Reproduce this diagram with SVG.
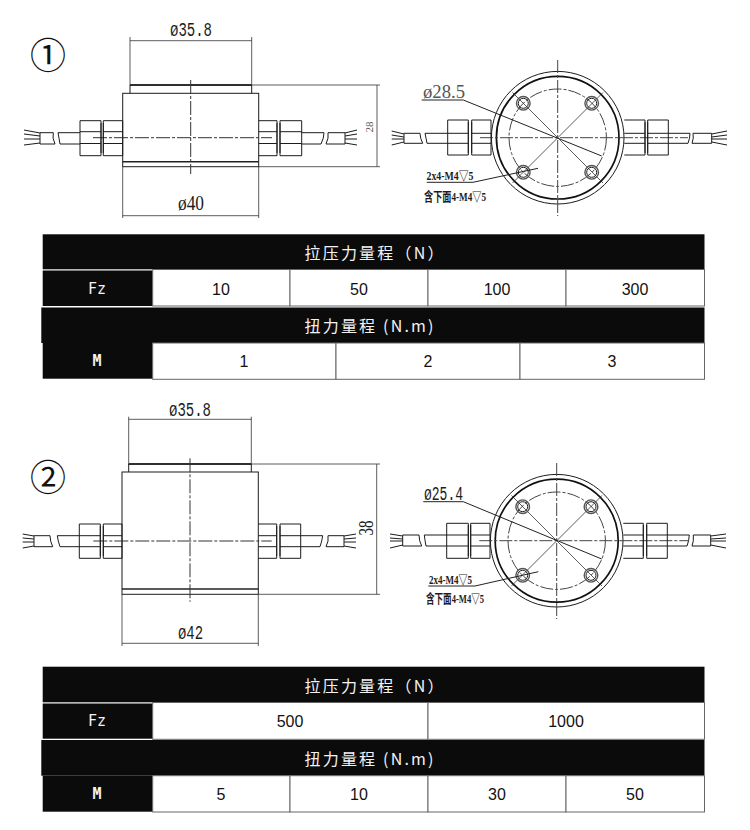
<svg xmlns="http://www.w3.org/2000/svg" width="750" height="830" viewBox="0 0 750 830">
<style>
.l{fill:none;stroke:#1c1c1c;stroke-width:1}
.t{fill:none;stroke:#111;stroke-width:1.7}
.m{fill:none;stroke:#222;stroke-width:1.4}
.h{fill:none;stroke:#333;stroke-width:.8}
.c{fill:none;stroke:#333;stroke-width:1;stroke-dasharray:14 2 3 2}
.d{fill:none;stroke:#444;stroke-width:1;stroke-dasharray:13 2 3 2}
.b{fill:#0b0b0b}
.w{fill:#fff;stroke:#666;stroke-width:1}
.g{fill:none;stroke:#555;stroke-width:1.4}
.dim{font-family:"Liberation Serif",serif;fill:#1c1c1c;text-anchor:middle}
.mono{font-family:"Liberation Mono",monospace;fill:#1c1c1c;text-anchor:middle}
.lab{font-family:"Liberation Serif","Noto Sans CJK SC",serif;font-weight:bold;fill:#1c1c1c;font-size:13px}
.hd{font-family:"Noto Sans CJK SC",sans-serif;fill:#f2f2f2;font-size:16px;letter-spacing:2.2px;dominant-baseline:central}
.k{font-family:"DejaVu Sans Mono",monospace;fill:#f2f2f2;font-size:15px;text-anchor:middle;dominant-baseline:central}
.v{font-family:"Liberation Sans",sans-serif;fill:#111;font-size:16px;text-anchor:middle;dominant-baseline:central}
.n{font-family:"Noto Sans CJK SC",sans-serif;fill:#111;font-size:36px;text-anchor:middle;dominant-baseline:central}
</style>

<g id="drawing-1-side">
<text class="n" x="48" y="53">①</text>
<path class="l" d="M130 93.3V85H251.7V93.3"/><path class="t" d="M130 85H251.7"/>
<rect class="l" x="122.7" y="93.3" width="136" height="73.4"/>
<path class="m" d="M122.7 161.7H258.7"/>
<path class="c" d="M190.7 80V174M93 137.7H272"/>
<path class="l" d="M80 120.7H101V155.7H80ZM80 131.7H101M80 143.5H101M103.3 120.7H122.7V155.7H103.3ZM103.3 131.7H122.7M103.3 143.5H122.7M101 123V153M103.3 123V153"/>
<path class="l" d="M80 132.7H58Q59 138 60 144H80M53.3 132.7Q52 138 55 144H40V132.7H53.3M40 133L24 130M40 136L24 134M40 139H24M40 143L24 145"/>
<path class="l" d="M258.7 120.7H277V155.7H258.7M258.7 131.7H277M258.7 143.5H277M280 120.7H301.7V155.7H280ZM280 131.7H301.7M280 143.5H301.7M277 123V153M280 123V153"/>
<path class="l" d="M301.7 132.7H324Q324 138 321 144H301.7M328 132.7H345V144H326Q329 138 328 132.7M345 133L357 130M345 136L357 134M345 139H357M345 143L357 145"/>
<path class="h" d="M130 37V85M251.7 37V85M130 40.7H251.7M251.7 85H380M258.7 166.7H380M377 85V166.7M122.7 166.7V218M258.7 166.7V218M122.7 215.7H258.7"/>
<text class="mono" x="191" y="36" font-size="20" textLength="42" lengthAdjust="spacingAndGlyphs">ø35.8</text>
<text class="dim" x="191" y="210" font-size="21" textLength="26" lengthAdjust="spacingAndGlyphs">ø40</text>
<text class="dim" font-size="11" style="fill:#555" transform="translate(373 127) rotate(-90)">28</text>
</g>

<g id="drawing-1-top">
<circle class="l" cx="557.7" cy="137.7" r="66.3"/>
<circle class="t" cx="557.7" cy="137.7" r="61.3"/>
<circle class="d" cx="557.7" cy="137.7" r="48.7"/>
<path class="d" d="M557.7 60V216M480 137.7H688"/>
<path class="h" d="M512.5 92.5L603 183M603 92.5L512.5 183"/>
<g class="l"><circle cx="523.3" cy="103.3" r="5"/><circle cx="591.7" cy="103.3" r="5"/><circle cx="523.3" cy="172.3" r="5"/><circle cx="591.7" cy="172.3" r="5"/></g>
<g class="g"><circle cx="523.3" cy="103.3" r="6.8"/><circle cx="591.7" cy="103.3" r="6.8"/><circle cx="523.3" cy="172.3" r="6.8"/><circle cx="591.7" cy="172.3" r="6.8"/></g>
<path class="l" d="M447.7 120H468.3V155H447.7ZM447.7 133.3H468.3M447.7 143.3H468.3M471.7 120H491V155H471.7ZM471.7 133.3H491M471.7 143.3H491M468.3 122V153M471.7 122V153"/>
<path class="l" d="M447.7 133.3H425Q426 138 427 143.3H447.7M422.7 143.3H404V133.3H420Q420 138 422.7 143.3M404 134L391.7 131M404 137L391.7 135M404 139H391.7M404 142L391.7 145"/>
<path class="l" d="M624.3 120H645V155H624.3M624.3 133.3H645M624.3 143.3H645M647.7 120H668.3V155H647.7ZM647.7 133.3H668.3M647.7 143.3H668.3M645 122V153M647.7 122V153"/>
<path class="l" d="M668.3 133.3H690Q690 138 688 143.3H668.3M693 133.3H711.7V143.3H692Q694 138 693 133.3M711.7 134L727 131M711.7 137L727 135M711.7 139H727M711.7 142L727 145"/>
<path class="h" d="M421.7 100H463.3L601.7 156M426.7 182.3H473L538 168.3" style="stroke:#222;stroke-width:1"/>
<text class="dim" x="444" y="97.5" font-size="19" textLength="42" lengthAdjust="spacingAndGlyphs" style="fill:#555">ø28.5</text>
<text class="lab" x="426.5" y="180" textLength="47" lengthAdjust="spacingAndGlyphs">2x4-M4▽5</text>
<text class="lab" x="424" y="201" textLength="62" lengthAdjust="spacingAndGlyphs">含下面4-M4▽5</text>
</g>

<g id="table-1">
<rect class="b" x="42.7" y="234.3" width="661.8" height="35"/>
<rect class="b" x="42.7" y="270.5" width="110" height="35.5"/>
<g class="w"><rect x="152.7" y="269.5" width="137.3" height="36.5"/><rect x="290" y="269.5" width="138" height="36.5"/><rect x="428" y="269.5" width="138" height="36.5"/><rect x="566" y="269.5" width="138.5" height="36.5"/></g>
<rect class="b" x="41.3" y="307.5" width="663.2" height="35.5"/>
<rect class="b" x="42.7" y="343" width="110" height="35.7"/>
<g class="w"><rect x="152.7" y="343" width="183.3" height="36.3"/><rect x="336" y="343" width="184" height="36.3"/><rect x="520" y="343" width="184.5" height="36.3"/></g>
<text class="hd" x="304.5" y="252">拉压力量程（N）</text>
<text class="hd" x="304.5" y="325">扭力量程 (N.m)</text>
<text class="k" x="97" y="289">Fz</text>
<text class="k" x="97" y="361" font-weight="bold">M</text>
<g class="v"><text x="221" y="289">10</text><text x="359" y="289">50</text><text x="497" y="289">100</text><text x="635" y="289">300</text><text x="244" y="361">1</text><text x="428" y="361">2</text><text x="612" y="361">3</text></g>
</g>

<g id="drawing-2-side">
<text class="n" x="48" y="475">②</text>
<path class="l" d="M128.7 472V464H251.3V472"/><path class="t" d="M128.7 464H251.3"/>
<rect class="l" x="122" y="472" width="136.3" height="122.3"/>
<path class="m" d="M122 589H258.3"/>
<path class="c" d="M190 458.3V601.7M93.3 541H271.7"/>
<path class="l" d="M79.3 524H100.3V558.3H79.3ZM79.3 535.7H100.3M79.3 546.7H100.3M103.3 524H122V558.3H103.3ZM103.3 535.7H122M103.3 546.7H122M100.3 526V556M103.3 526V556"/>
<path class="l" d="M79.3 535.7H57.3Q58 541 60 546.7H79.3M52.7 546.7H34V535.7H50Q50 541 52.7 546.7M34 536L22.7 534M34 539L22.7 538M34 542H22.7M34 546L22.7 548"/>
<path class="l" d="M258.3 524H276.7V558.3H258.3M258.3 535.7H276.7M258.3 546.7H276.7M280 524H300.7V558.3H280ZM280 535.7H300.7M280 546.7H300.7M276.7 526V556M280 526V556"/>
<path class="l" d="M300.7 535.7H322.7Q322 541 320 546.7H300.7M328 535.7H344V546.7H326Q329 541 328 535.7M344 536L356 534M344 539L356 538M344 542H356M344 546L356 548"/>
<path class="h" d="M128.7 416.7V464M251.3 416.7V464M128.7 419.3H251.3M251.3 464H380M258.3 594.3H380M376.7 464V594.3M122 594.3V646M258.3 594.3V646M122 643.3H258.3"/>
<text class="mono" x="190" y="415.5" font-size="20" textLength="42" lengthAdjust="spacingAndGlyphs">ø35.8</text>
<text class="mono" x="190.5" y="639" font-size="20" textLength="25" lengthAdjust="spacingAndGlyphs">ø42</text>
<text class="dim" font-size="21" transform="translate(373 528) rotate(-90)" textLength="15" lengthAdjust="spacingAndGlyphs">38</text>
</g>

<g id="drawing-2-top">
<circle class="l" cx="556.7" cy="540.7" r="66.3"/>
<circle class="t" cx="556.7" cy="540.7" r="61.5"/>
<circle class="d" cx="556.7" cy="540.7" r="48.7"/>
<path class="d" d="M556.7 463V619M479.3 540.7H688"/>
<path class="h" d="M511.5 495.5L602 586M602 495.5L511.5 586"/>
<g class="l"><circle cx="522.7" cy="506.7" r="5"/><circle cx="591" cy="506.7" r="5"/><circle cx="522.7" cy="575.3" r="5"/><circle cx="591" cy="575.3" r="5"/></g>
<g class="g"><circle cx="522.7" cy="506.7" r="6.8"/><circle cx="591" cy="506.7" r="6.8"/><circle cx="522.7" cy="575.3" r="6.8"/><circle cx="591" cy="575.3" r="6.8"/></g>
<path class="l" d="M446.7 523.3H468.3V558.3H446.7ZM446.7 535H468.3M446.7 546H468.3M470.7 523.3H490V558.3H470.7ZM470.7 535H490M470.7 546H490M468.3 525V556M470.7 525V556"/>
<path class="l" d="M446.7 535H424.3Q425 541 426 546H446.7M421.7 546H402.7V535H419Q419 541 421.7 546M402.7 536L390 534M402.7 539L390 538M402.7 541H390M402.7 545L390 548"/>
<path class="l" d="M623.3 523.3H643.3V558.3H623.3M623.3 535H643.3M623.3 546H643.3M646.7 523.3H667.3V558.3H646.7ZM646.7 535H667.3M646.7 546H667.3M643.3 525V556M646.7 525V556"/>
<path class="l" d="M667.3 535H689.3Q689 541 687 546H667.3M693.3 535H710.7V546H692Q694 541 693.3 535M710.7 536L726 534M710.7 539L726 538M710.7 541H726M710.7 545L726 548"/>
<path class="h" d="M423.3 501.7H463.3L601.7 559M428.3 586H475L538.3 571.7" style="stroke:#222;stroke-width:1"/>
<text class="mono" x="443.5" y="500" font-size="21" textLength="39" lengthAdjust="spacingAndGlyphs">ø25.4</text>
<text class="lab" x="429" y="583.5" textLength="43" lengthAdjust="spacingAndGlyphs">2x4-M4▽5</text>
<text class="lab" x="426" y="603" textLength="58" lengthAdjust="spacingAndGlyphs">含下面4-M4▽5</text>
</g>

<g id="table-2">
<rect class="b" x="42.7" y="666.7" width="661.8" height="35.6"/>
<rect class="b" x="42.7" y="703.5" width="110" height="35.2"/>
<g class="w"><rect x="152.7" y="702.5" width="275.3" height="36.8"/><rect x="428" y="702.5" width="276.5" height="36.8"/></g>
<rect class="b" x="41.3" y="740" width="663.2" height="35.7"/>
<rect class="b" x="42.7" y="775.7" width="110" height="36"/>
<g class="w"><rect x="152.7" y="775.7" width="137.3" height="36.3"/><rect x="290" y="775.7" width="138" height="36.3"/><rect x="428" y="775.7" width="138" height="36.3"/><rect x="566" y="775.7" width="138.5" height="36.3"/></g>
<text class="hd" x="304.5" y="685">拉压力量程（N）</text>
<text class="hd" x="304.5" y="758">扭力量程 (N.m)</text>
<text class="k" x="97" y="721">Fz</text>
<text class="k" x="97" y="794" font-weight="bold">M</text>
<g class="v"><text x="290" y="721">500</text><text x="566" y="721">1000</text><text x="221" y="794">5</text><text x="359" y="794">10</text><text x="497" y="794">30</text><text x="635" y="794">50</text></g>
</g>
</svg>
